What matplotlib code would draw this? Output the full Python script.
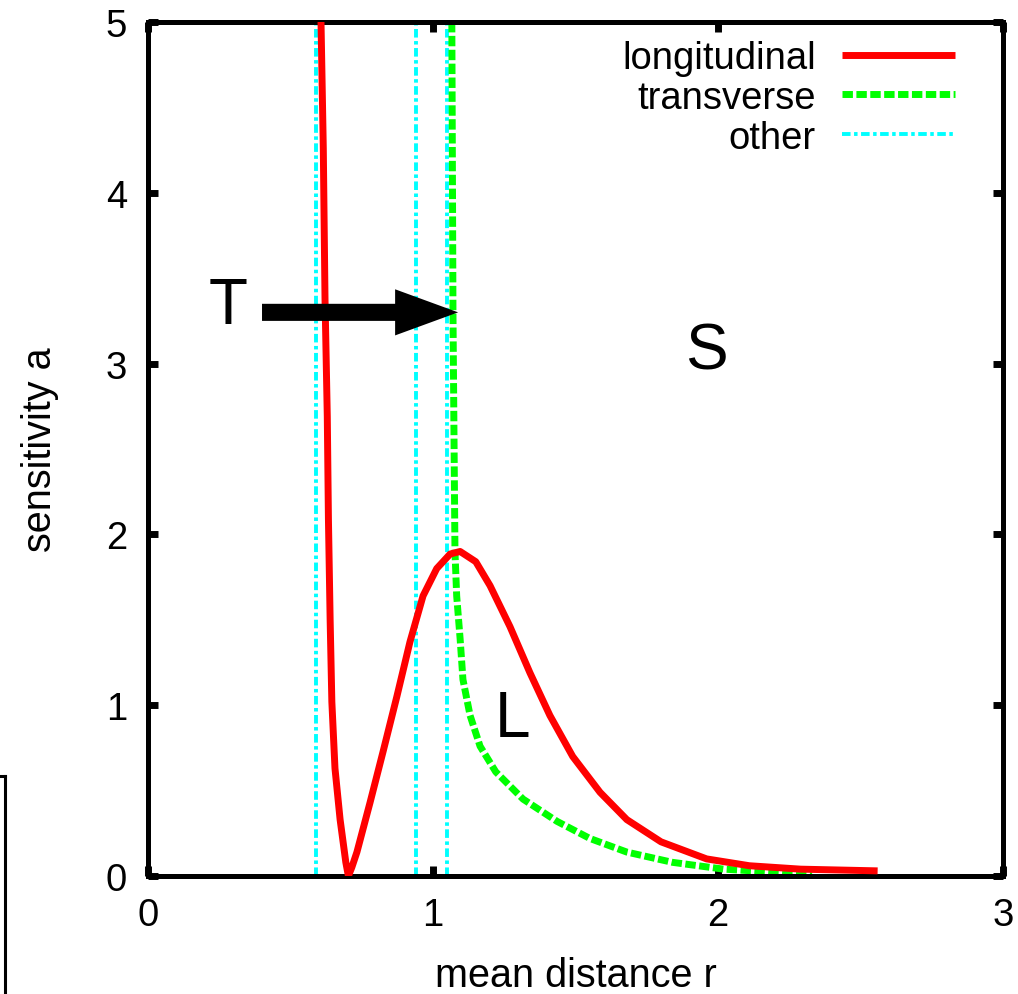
import matplotlib
matplotlib.use("Agg")
import matplotlib.pyplot as plt
from matplotlib.lines import Line2D

plt.rcParams['font.family'] = ['Liberation Sans', 'DejaVu Sans']

# --- data ---
r_long = [0.607, 0.615, 0.621, 0.629, 0.633, 0.639, 0.645, 0.656, 0.674, 0.694,
          0.703, 0.715, 0.733, 0.779, 0.825, 0.873, 0.919, 0.965, 1.013, 1.06,
          1.095, 1.15, 1.20, 1.27, 1.34, 1.41, 1.49, 1.586, 1.68, 1.80,
          1.96, 2.11, 2.29, 2.56]
a_long = [5.0, 4.26, 3.38, 2.69, 2.09, 1.50, 1.02, 0.63, 0.33, 0.08,
          0.0, 0.05, 0.14, 0.43, 0.73, 1.05, 1.37, 1.64, 1.80, 1.885,
          1.90, 1.84, 1.70, 1.46, 1.19, 0.94, 0.70, 0.49, 0.33, 0.20,
          0.10, 0.06, 0.04, 0.03]

r_trans = [1.066, 1.070, 1.077, 1.083, 1.095, 1.105, 1.13, 1.165, 1.22, 1.316,
           1.435, 1.55, 1.68, 1.84, 2.02, 2.33]
a_trans = [5.0, 3.3, 1.9, 1.64, 1.39, 1.15, 0.94, 0.76, 0.61, 0.45,
           0.32, 0.22, 0.14, 0.08, 0.04, 0.01]

r_other = [0.589, 0.940, 1.048]

fig = plt.figure(figsize=(10.18, 9.95), dpi=100)
ax = fig.add_axes([0.1454, 0.1186, 0.8399, 0.8583])

# --- curves ---
ax.plot(r_long, a_long, color='#ff0000', lw=5, solid_capstyle='butt',
        solid_joinstyle='round', label='longitudinal', zorder=3)
ax.plot(r_trans, a_trans, color='#00ff00', lw=5, linestyle=(0, (1.5, 0.5)),
        dash_capstyle='butt', label='transverse', zorder=2)
for i, r in enumerate(r_other):
    ax.axvline(r, color='#00ffff', lw=2.8, linestyle=(0, (2.2, 0.9, 0.9, 0.9)),
               label='other' if i == 0 else None, zorder=1)

# arrow + labels
ax.arrow(0.40, 3.30, 0.688, 0, width=0.1, head_width=0.27, head_length=0.221,
         length_includes_head=True, color='black', lw=0, zorder=5)
ax.text(0.28, 3.34, 'T', fontsize=46, ha='center', va='center')
ax.text(1.96, 3.07, 'S', fontsize=46, ha='center', va='center')
ax.text(1.28, 0.92, 'L', fontsize=46, ha='center', va='center')

ax.set_xlim(0, 3)
ax.set_ylim(0, 5)
ax.set_xticks([0, 1, 2, 3])
ax.set_yticks([0, 1, 2, 3, 4, 5])
ax.tick_params(direction='in', length=7, width=5, labelsize=27.5,
               top=True, right=True)
ax.tick_params(axis='x', pad=15)
ax.tick_params(axis='y', pad=15)
for s in ax.spines.values():
    s.set_linewidth(3.6)

ax.set_xlabel('mean distance r', fontsize=28.5, labelpad=17)
ax.set_ylabel('sensitivity a', fontsize=28.5, labelpad=34)

ax.legend(loc='upper right', bbox_to_anchor=(0.944, 0.979), frameon=False,
          markerfirst=False, fontsize=27.5, handlelength=2.95, handletextpad=0.7,
          labelspacing=0.1, borderpad=0, borderaxespad=0)

# leftover frame from a neighbouring panel at the bottom-left edge
fig.add_artist(Line2D([0.0049, 0.0049], [0.0, 0.219], color='black', lw=2.2))
fig.add_artist(Line2D([0.0, 0.0049], [0.219, 0.219], color='black', lw=2.2))

fig.savefig('out.png', dpi=100)
